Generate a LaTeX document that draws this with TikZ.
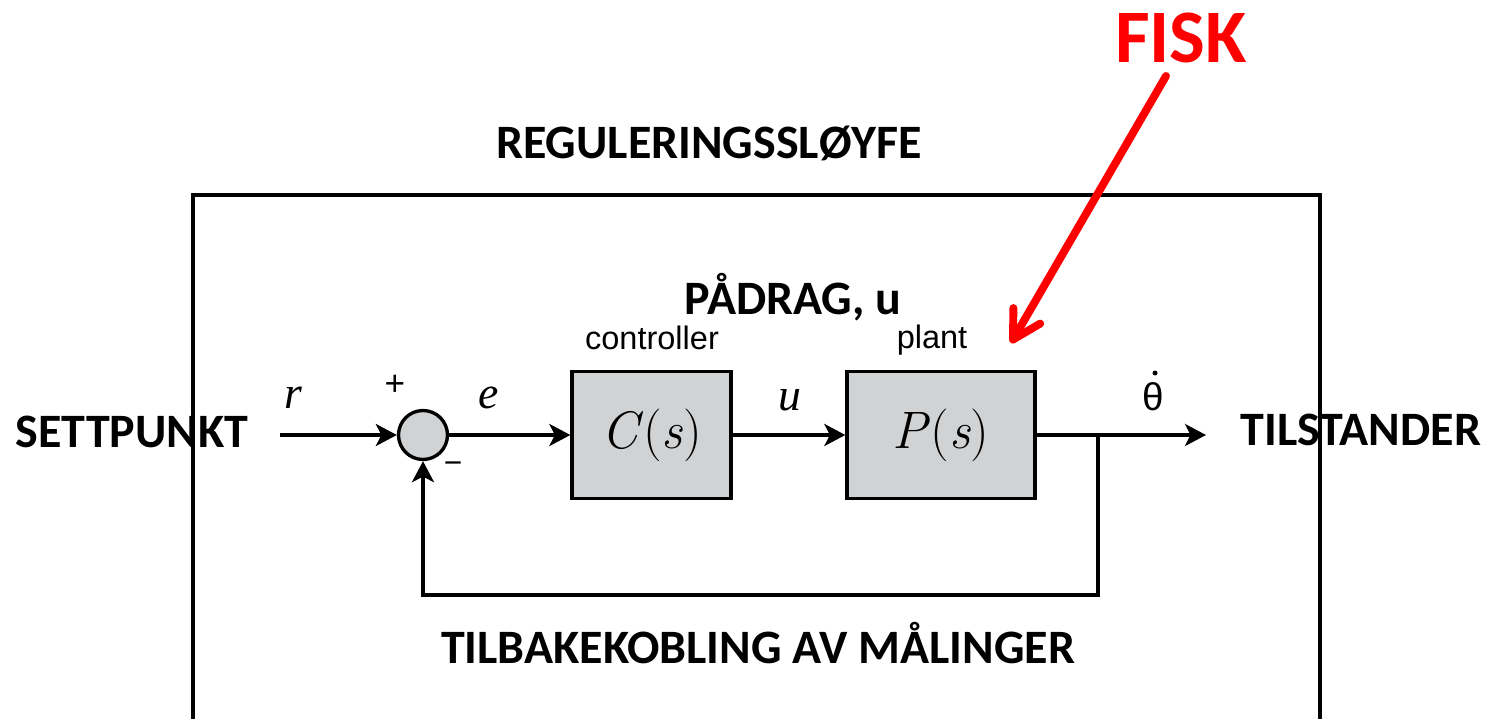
\documentclass[tikz,border=0pt]{standalone}
\usepackage{fontspec}
\usetikzlibrary{arrows.meta}
\newfontfamily\calib{Carlito}
\newfontfamily\arialf{Liberation Sans}
\newfontfamily\timesf{Liberation Serif}
\definecolor{boxgray}{HTML}{D1D2D4}
\definecolor{fiskred}{HTML}{FF0000}
\begin{document}
\begin{tikzpicture}[x=0.02cm,y=-0.02cm,
  lbl/.style={font=\calib\bfseries\fontsize{27.3}{31}\selectfont, inner sep=0, anchor=center},
  blk/.style={draw, line width=1.9pt, fill=boxgray, minimum height=2.54cm, inner sep=0, font=\fontsize{30}{34}\selectfont},
  sumcirc/.style={draw, circle, line width=1.9pt, fill=boxgray, minimum size=0.98cm, inner sep=0},
  mathlbl/.style={font=\timesf\itshape\fontsize{26}{30}\selectfont, inner sep=0},
  sanslbl/.style={font=\arialf\fontsize{18.5}{22}\selectfont, inner sep=0},
  sig/.style={line width=1.9pt, -{Stealth[length=0.42cm,width=0.44cm,inset=0.11cm]}},
  dotmark/.style={circle, fill=black, inner sep=0, minimum size=0.1cm}
]
\useasboundingbox (0,0) rectangle (1493,719);
\clip (0,0) rectangle (1493,719);
% frame
\draw[line width=2.2pt] (193,780) -- (193,195) -- (1320,195) -- (1320,780);
% labels
\node[lbl] (title) at (709,143) {REGULERINGSSLØYFE};
\node[lbl] (padrag) at (793,297) {PÅDRAG, u};
\node[lbl] (settp) at (132,432) {SETTPUNKT};
\node[lbl] (tilst) at (1361,430) {TILSTANDER};
\node[lbl] (tilbake) at (758,643) {TILBAKEKOBLING AV MÅLINGER};
\node[font=\calib\bfseries\fontsize{43}{47}\selectfont, text=fiskred, inner sep=0] (fisk) at (1181,38) {FISK};
% blocks
\node[sumcirc] (sum) at (423,435) {};
\node[blk, minimum width=3.18cm] (ctrl) at (651.5,435) {\textit{C}(\textit{s})};
\node[blk, minimum width=3.76cm] (plant) at (941,435) {\textit{P}(\textit{s})};
\node[sanslbl] (ctrllbl) at (652,338) {controller};
\node[sanslbl] (plantlbl) at (932,340) {plant};
\node[mathlbl] (rl) at (293,398) {r};
\node[mathlbl] (el) at (489,398) {e};
\node[mathlbl] (ul) at (790,400) {u};
\node[font=\arialf\fontsize{22}{26}\selectfont, inner sep=0] (thl) at (1153,397) {θ};
\node[dotmark] (thdot) at (1155,373) {};
\node[font=\arialf\fontsize{20}{22}\selectfont, inner sep=0] (plus) at (395,385) {+};
\node[font=\arialf\fontsize{18}{20}\selectfont, inner sep=0] (minus) at (453,468) {−};
% coordinates
\coordinate (rin) at (280,435);
\coordinate (yout) at (1206,435);
\coordinate (branch) at (1098,435);
\coordinate (fbr) at (1098,595);
\coordinate (fbl) at (423,595);
\coordinate (fiskstart) at (1166,76);
\coordinate (fisktip) at (1011,343);
% connectors
\draw[sig] (rin) -- (sum.west);
\draw[sig] (sum.east) -- (ctrl.west);
\draw[sig] (ctrl.east) -- (plant.west);
\draw[sig] (plant.east) -- (yout);
\draw[sig] (branch) -- (fbr) -- (fbl) -- (sum.south);
% red arrow
\draw[fiskred, line width=4.5pt, line cap=round, -{Straight Barb[length=0.55cm,width=0.62cm,line cap=round,line join=round]}] (fiskstart) -- (fisktip);
\end{tikzpicture}
\end{document}
